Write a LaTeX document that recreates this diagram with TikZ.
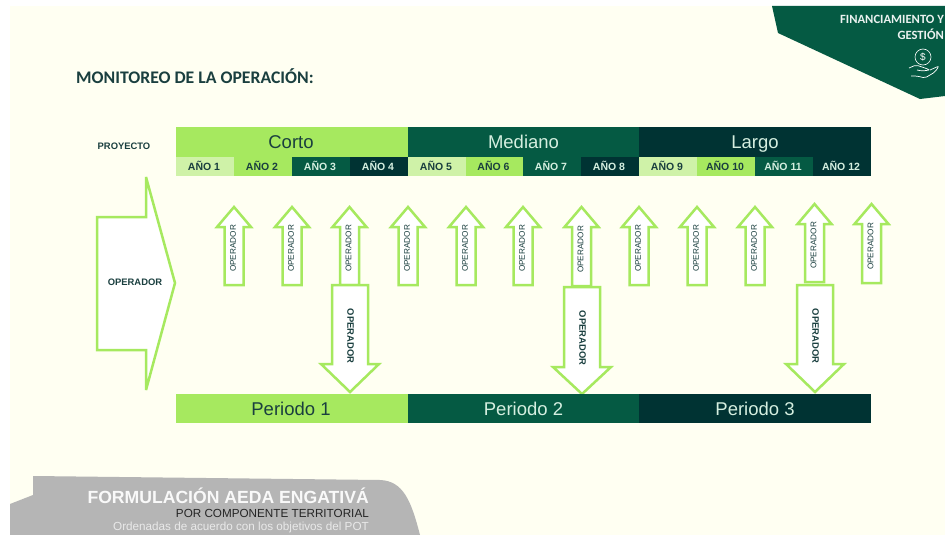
\documentclass[tikz,border=0pt]{standalone}
\usepackage{fontspec}
\setmainfont{Liberation Sans}
\newfontfamily\carl{Carlito}
\definecolor{bgc}{HTML}{FFFFF2}
\definecolor{lime}{HTML}{A6E95F}
\definecolor{pale}{HTML}{CFF2A8}
\definecolor{dkg}{HTML}{055A43}
\definecolor{dkst}{HTML}{003333}
\definecolor{ink}{HTML}{1A3F3F}
\definecolor{paleink}{HTML}{D5EFE0}
\definecolor{grayb}{HTML}{B5B5B5}
\tikzset{
  x=1pt,y=-1pt,
  arrowline/.style={draw=lime,fill=white,line width=2.5pt,miter limit=4},
  smalllab/.style={font=\fontsize{8.2}{9}\selectfont,text=ink,rotate=90,inner sep=0pt},
  biglab/.style={font=\fontsize{9.4}{10}\selectfont\bfseries,text=ink,rotate=-90,inner sep=0pt},
  headlab/.style={font=\fontsize{18.5}{20}\selectfont,anchor=base,inner sep=0pt},
  yearlab/.style={font=\fontsize{10.5}{11}\selectfont\bfseries},
}
% #1 name, #2 centre x, #3 tip y, #4 bottom y
\newcommand{\uparr}[4]{%
  \draw[arrowline] (#2,#3) -- (#2+17,#3+20) -- (#2+9.5,#3+20) -- (#2+9.5,#4) -- (#2-9.5,#4) -- (#2-9.5,#3+20) -- (#2-17,#3+20) -- cycle;
  \node[smalllab] (#1) at (#2-1,{#4-36.5}) {OPERADOR};
}
% #1 name, #2 centre x, #3 top y, #4 head y, #5 tip y
\newcommand{\downarr}[5]{%
  \draw[arrowline] (#2-18,#3) -- (#2+18,#3) -- (#2+18,#4) -- (#2+29,#4) -- (#2,#5) -- (#2-29,#4) -- (#2-18,#4) -- cycle;
  \node[biglab] (#1) at (#2+0.5,{#3+51}) {OPERADOR};
}
% #1 name, #2 x, #3 x, #4 fill, #5 text colour, #6 text
\newcommand{\yearcell}[6]{%
  \fill[#4] (#2,157) rectangle (#3,176);
  \node[yearlab,text=#5] (#1) at ({(#2+#3)/2-1},165.5) {#6};
}
\begin{document}
\begin{tikzpicture}
\useasboundingbox (0,0) rectangle (945,535);
\fill[white] (0,0) rectangle (945,535);
\fill[bgc] (10,6) rectangle (945,535);
% banner
\fill[dkg] (772,6) -- (778,33) -- (920,99) -- (945,96) -- (945,6) -- cycle;
\node[anchor=east,inner sep=0pt,text=white!92!dkg,font=\carl\fontsize{12.6}{14}\selectfont\bfseries] (fin1) at (944,19) {FINANCIAMIENTO Y};
\node[anchor=east,inner sep=0pt,text=white!92!dkg,font=\carl\fontsize{12.6}{14}\selectfont\bfseries] (fin2) at (944,34.5) {GESTIÓN};
\node[circle,draw=white,line width=.6pt,minimum size=16pt,inner sep=0pt,text=white,font=\fontsize{10}{10}\selectfont] (coin) at (923,57) {\$};
\draw[white,line width=.7pt,rounded corners=2pt] (909,68) -- (916,65) -- (925,68) -- (930,70) -- (922,71) -- (917,70);
\draw[white,line width=.7pt,rounded corners=2pt] (930,70) -- (939,66) -- (935,72) -- (925,78) -- (917,76) -- (911,76);
% title
\node[anchor=west,inner sep=0pt,text=ink,font=\carl\fontsize{17.7}{20}\selectfont\bfseries] (title) at (76,76) {MONITOREO DE LA OPERACIÓN:};
\node[inner sep=0pt,text=ink,font=\fontsize{9.4}{10}\selectfont\bfseries] (proy) at (124,146) {PROYECTO};
% header bars
\fill[lime] (176,127) rectangle (408,157);
\fill[dkg] (408,127) rectangle (639,157);
\fill[dkst] (639,127) rectangle (871,157);
\node[headlab,text=ink] (corto) at (291,148) {Corto};
\node[headlab,text=paleink] (mediano) at (523.5,148) {Mediano};
\node[headlab,text=paleink] (largo) at (755,148) {Largo};
% years
\yearcell{y1}{176}{234}{pale}{ink}{AÑO 1}
\yearcell{y2}{234}{292}{lime}{ink}{AÑO 2}
\yearcell{y3}{292}{350}{dkg}{paleink}{AÑO 3}
\yearcell{y4}{350}{408}{dkst}{paleink}{AÑO 4}
\yearcell{y5}{408}{466}{pale}{ink}{AÑO 5}
\yearcell{y6}{466}{523}{lime}{ink}{AÑO 6}
\yearcell{y7}{523}{581}{dkg}{paleink}{AÑO 7}
\yearcell{y8}{581}{639}{dkst}{paleink}{AÑO 8}
\yearcell{y9}{639}{697}{pale}{ink}{AÑO 9}
\yearcell{y10}{697}{755}{lime}{ink}{AÑO 10}
\yearcell{y11}{755}{813}{dkg}{paleink}{AÑO 11}
\yearcell{y12}{813}{871}{dkst}{paleink}{AÑO 12}
% big left arrow
\draw[arrowline] (97,217) -- (146,217) -- (146,177) -- (175,283) -- (146,390) -- (146,350) -- (97,350) -- cycle;
\node[inner sep=0pt,text=ink,font=\fontsize{9.4}{10}\selectfont\bfseries] (opmain) at (135,282) {OPERADOR};
% up arrows
\uparr{u1}{234}{207}{285}
\uparr{u2}{292}{207}{285}
\uparr{u3}{349.5}{207}{285}
\uparr{u4}{408}{207}{285}
\uparr{u5}{466}{207}{285}
\uparr{u6}{523}{207}{285}
\uparr{u7}{581.5}{207}{286}
\uparr{u8}{639}{207}{285}
\uparr{u9}{697}{207}{285}
\uparr{u10}{755}{207}{285}
\uparr{u11}{814.5}{204}{282}
\uparr{u12}{871.5}{204}{283}
% down arrows
\downarr{d1}{350}{285}{364}{392}
\downarr{d2}{582}{287}{367}{394}
\downarr{d3}{815}{285}{364}{392}
% period bars
\fill[lime] (176,394) rectangle (408,423);
\fill[dkg] (408,394) rectangle (639,423);
\fill[dkst] (639,394) rectangle (871,423);
\node[headlab,text=ink] (p1) at (291,415) {Periodo 1};
\node[headlab,text=paleink] (p2) at (523.5,415) {Periodo 2};
\node[headlab,text=paleink] (p3) at (755,415) {Periodo 3};
% footer
\fill[grayb] (10,504) -- (33,495) -- (33,476) -- (380,480) .. controls (403,481) and (411,500) .. (420,535) -- (10,535) -- cycle;
\node[anchor=east,inner sep=0pt,text=white!92!grayb,font=\fontsize{17.6}{19}\selectfont\bfseries] (f1) at (369,495.5) {FORMULACIÓN AEDA ENGATIVÁ};
\node[anchor=east,inner sep=0pt,text=black!85,font=\fontsize{11.7}{13}\selectfont] (f2) at (369,513) {POR COMPONENTE TERRITORIAL};
\node[anchor=east,inner sep=0pt,text=white!70!grayb,font=\fontsize{11.7}{13}\selectfont] (f3) at (369,527.5) {Ordenadas de acuerdo con los objetivos del POT};
\end{tikzpicture}
\end{document}
